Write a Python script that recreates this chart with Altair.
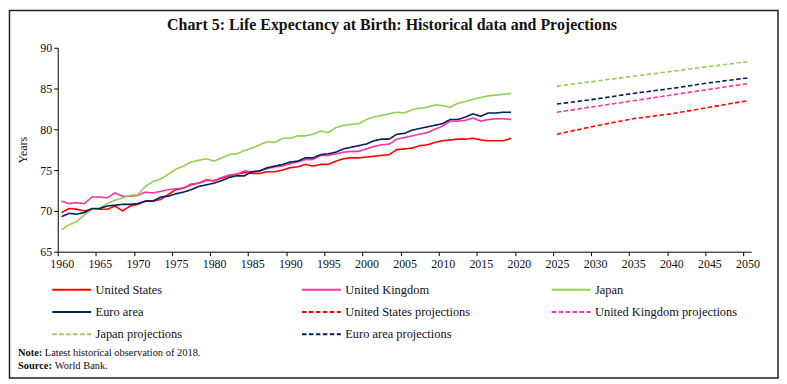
import altair as alt
import pandas as pd

# ---------------- data ----------------
years = list(range(1960, 2020))

united_states = [69.8, 70.3, 70.2, 70.0, 70.2, 70.2, 70.2, 70.6, 70.0, 70.6,
                 70.8, 71.2, 71.2, 71.4, 72.0, 72.6, 72.8, 73.2, 73.4, 73.8,
                 73.7, 74.0, 74.3, 74.5, 74.7, 74.6, 74.6, 74.8, 74.8, 75.0,
                 75.3, 75.4, 75.7, 75.5, 75.7, 75.7, 76.1, 76.4, 76.5, 76.5,
                 76.6, 76.7, 76.8, 76.9, 77.5, 77.6, 77.7, 78.0, 78.1, 78.4,
                 78.6, 78.7, 78.8, 78.8, 78.9, 78.7, 78.6, 78.6, 78.6, 78.9]

united_kingdom = [71.2, 70.9, 71.0, 70.9, 71.7, 71.7, 71.6, 72.2, 71.8, 71.8,
                  71.9, 72.3, 72.2, 72.4, 72.6, 72.7, 72.8, 73.3, 73.4, 73.7,
                  73.7, 74.1, 74.4, 74.5, 74.9, 74.8, 74.9, 75.2, 75.4, 75.5,
                  75.8, 76.0, 76.3, 76.3, 76.8, 76.8, 77.0, 77.2, 77.3, 77.3,
                  77.6, 77.9, 78.1, 78.2, 78.8, 79.0, 79.2, 79.4, 79.6, 80.0,
                  80.4, 81.0, 81.0, 81.1, 81.4, 81.0, 81.2, 81.3, 81.3, 81.2]

japan = [67.7, 68.3, 68.7, 69.5, 70.2, 70.3, 70.9, 71.3, 71.6, 71.9,
         72.0, 73.0, 73.6, 73.9, 74.5, 75.1, 75.5, 76.0, 76.2, 76.4,
         76.1, 76.5, 76.9, 77.0, 77.4, 77.7, 78.1, 78.5, 78.4, 78.9,
         78.9, 79.2, 79.2, 79.4, 79.8, 79.6, 80.2, 80.5, 80.6, 80.7,
         81.2, 81.5, 81.7, 81.9, 82.1, 82.0, 82.4, 82.6, 82.7, 83.0,
         82.9, 82.7, 83.2, 83.4, 83.7, 83.9, 84.1, 84.2, 84.3, 84.4]

euro_area = [69.3, 69.7, 69.6, 69.8, 70.3, 70.3, 70.6, 70.7, 70.8, 70.8,
             70.9, 71.2, 71.2, 71.7, 71.8, 72.1, 72.3, 72.6, 73.0, 73.2,
             73.4, 73.7, 74.1, 74.3, 74.3, 74.8, 74.9, 75.3, 75.5, 75.7,
             76.0, 76.1, 76.5, 76.5, 76.9, 77.0, 77.2, 77.6, 77.8, 78.0,
             78.2, 78.6, 78.8, 78.8, 79.4, 79.5, 79.9, 80.1, 80.3, 80.5,
             80.7, 81.2, 81.2, 81.5, 81.9, 81.6, 82.0, 82.0, 82.1, 82.1]

proj_years = [2025, 2030, 2035, 2040, 2045, 2050]
us_proj = [79.4, 80.4, 81.3, 81.9, 82.7, 83.5]
uk_proj = [82.1, 82.8, 83.5, 84.2, 84.9, 85.6]
japan_proj = [85.3, 85.9, 86.5, 87.1, 87.7, 88.3]
euro_proj = [83.1, 83.7, 84.4, 85.0, 85.7, 86.3]

series_names = ["United States", "United Kingdom", "Japan", "Euro area",
                "United States projections", "United Kingdom projections",
                "Japan projections", "Euro area projections"]
series_colors = ["#FF0000", "#FF3399", "#92D050", "#002060",
                 "#FF0000", "#FF3399", "#92D050", "#002060"]
solid = [1, 0]
dashed = [4.5, 2.5]
series_dashes = [solid, solid, solid, solid, dashed, dashed, dashed, dashed]

x_ticks = list(range(1960, 2051, 5))
y_ticks = [65, 70, 75, 80, 85, 90]

title_text = "Chart 5: Life Expectancy at Birth: Historical data and Projections"
note_label, note_text = "Note:", "Latest historical observation of 2018."
source_label, source_text = "Source:", "World Bank."

# ---------------- table ----------------
rows = []
for name, vals in zip(series_names[:4], [united_states, united_kingdom, japan, euro_area]):
    for y, v in zip(years, vals):
        rows.append({"series": name, "year": y, "value": v})
for name, vals in zip(series_names[4:], [us_proj, uk_proj, japan_proj, euro_proj]):
    for y, v in zip(proj_years, vals):
        rows.append({"series": name, "year": y, "value": v})
df = pd.DataFrame(rows)

FONT = "Liberation Serif"
W, H = 697, 205

lines = alt.Chart(df).transform_calculate(
    xpos="datum.year + 0.5"
).mark_line(strokeWidth=1.6).encode(
    x=alt.X("xpos:Q", scale=alt.Scale(domain=[1960, 2051], nice=False, zero=False),
            axis=alt.Axis(values=x_ticks, format="d", title=None, labelOffset=4,
                          labelFlush=False, labelOverlap=False,
                          tickSize=4, labelPadding=3)),
    y=alt.Y("value:Q", scale=alt.Scale(domain=[65, 90], nice=False, zero=False),
            axis=alt.Axis(values=y_ticks, title="Years", tickSize=4, labelPadding=2,
                          titleAngle=270, titleX=-35, titleY=H / 2,
                          titleBaseline="middle", titleAlign="center")),
    color=alt.Color("series:N", scale=alt.Scale(domain=series_names, range=series_colors),
                    legend=alt.Legend(title=None)),
    strokeDash=alt.StrokeDash("series:N", scale=alt.Scale(domain=series_names, range=series_dashes),
                              legend=alt.Legend(title=None)),
    order=alt.Order("year:Q"),
)

one = pd.DataFrame({"k": [0]})

frame = alt.Chart(one).mark_rect(fill=None, stroke="#222222", strokeWidth=1.5).encode(
    x=alt.value(-48.5), x2=alt.value(724), y=alt.value(-37.5), y2=alt.value(332)
)

title = alt.Chart(one).mark_text(font=FONT, fontSize=16, fontWeight="bold",
                                 align="center", baseline="alphabetic", color="#111111").encode(
    x=alt.value(336), y=alt.value(-17.5), text=alt.value(title_text)
)

note_b = alt.Chart(one).mark_text(font=FONT, fontSize=10.5, fontWeight="bold",
                                  align="left", baseline="alphabetic", color="#111111").encode(
    x=alt.value(-40), y=alt.value(309.5), text=alt.value(note_label)
)
note_t = alt.Chart(one).mark_text(font=FONT, fontSize=10.5, align="left",
                                  baseline="alphabetic", color="#111111").encode(
    x=alt.value(-13), y=alt.value(309.5), text=alt.value(note_text)
)
src_b = alt.Chart(one).mark_text(font=FONT, fontSize=10.5, fontWeight="bold",
                                 align="left", baseline="alphabetic", color="#111111").encode(
    x=alt.value(-40), y=alt.value(323), text=alt.value(source_label)
)
src_t = alt.Chart(one).mark_text(font=FONT, fontSize=10.5, align="left",
                                 baseline="alphabetic", color="#111111").encode(
    x=alt.value(-3), y=alt.value(323), text=alt.value(source_text)
)

chart = alt.layer(frame, lines, title, note_b, note_t, src_b, src_t).properties(
    width=W, height=H, padding=0, background="white"
).configure_view(stroke=None).configure_axis(
    grid=False, domainColor="#000000", tickColor="#000000", domainWidth=1, tickWidth=1,
    labelFont=FONT, labelFontSize=12, labelColor="#111111",
    titleFont=FONT, titleFontSize=12, titleColor="#111111", titleFontWeight="normal",
).configure_legend(
    orient="none", legendX=3, legendY=232, columns=3, gridAlign="all", direction="horizontal",
    columnPadding=59, rowPadding=4.5, padding=0,
    symbolType="M-2,0H2", symbolSize=380, symbolStrokeWidth=2,
    labelFont=FONT, labelFontSize=12.5, labelColor="#111111", labelOffset=13,
    labelLimit=300,
)

chart.save("out.html", embed_options={"renderer": "svg", "actions": False})
